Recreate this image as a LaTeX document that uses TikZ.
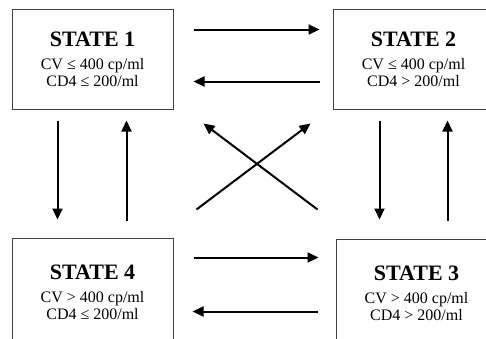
\documentclass[tikz,border=0pt]{standalone}
\usepackage{fontspec}
\setmainfont{Liberation Serif}
\usetikzlibrary{arrows.meta}
\begin{document}
\begin{tikzpicture}[x=1pt,y=-1pt,
  statebox/.style={draw=black!75, line width=1pt, minimum width=161pt, inner sep=0pt,
    align=center, font=\fontsize{16}{17}\selectfont},
  arr/.style={line width=2pt, -{Triangle[length=11pt,width=10pt]}}]
\useasboundingbox (0,0) rectangle (486,338);
\newcommand{\ttl}[1]{{\fontsize{22}{17}\selectfont\bfseries #1}\\[6pt]}
\node[statebox, minimum height=100pt] (s1) at (92.5,59) {\ttl{STATE 1}CV ≤ 400 cp/ml\\CD4 ≤ 200/ml};
\node[statebox, minimum height=100pt] (s2) at (413.5,59) {\ttl{STATE 2}CV ≤ 400 cp/ml\\CD4 > 200/ml};
\node[statebox, minimum height=108pt] (s4) at (92.5,292) {\ttl{STATE 4}CV > 400 cp/ml\\CD4 ≤ 200/ml};
\node[statebox, minimum height=108pt] (s3) at (416.5,293) {\ttl{STATE 3}CV > 400 cp/ml\\CD4 > 200/ml};
% horizontal top
\draw[arr] ([shift={(20,21)}]s1.north east) -- ([shift={(-13,21)}]s2.north west);
\draw[arr] ([shift={(-13,73)}]s2.north west) -- ([shift={(20,73)}]s1.north east);
% horizontal bottom
\draw[arr] ([shift={(20,20)}]s4.north east) -- ([shift={(-17,19)}]s3.north west);
\draw[arr] ([shift={(-18,73)}]s3.north west) -- ([shift={(19,74)}]s4.north east);
% vertical left
\draw[arr] ([shift={(46,11)}]s1.south west) -- ([shift={(46,-18)}]s4.north west);
\draw[arr] ([shift={(115,-17)}]s4.north west) -- ([shift={(115,11)}]s1.south west);
% vertical right
\draw[arr] ([shift={(47,11)}]s2.south west) -- ([shift={(44,-19)}]s3.north west);
\draw[arr] ([shift={(112,-18)}]s3.north west) -- ([shift={(115,11)}]s2.south west);
% cross
\draw[arr] ([shift={(23,-28)}]s4.north east) -- ([shift={(-22,14)}]s2.south west);
\draw[arr] ([shift={(-18,-29)}]s3.north west) -- ([shift={(30,14)}]s1.south east);
\end{tikzpicture}
\end{document}
